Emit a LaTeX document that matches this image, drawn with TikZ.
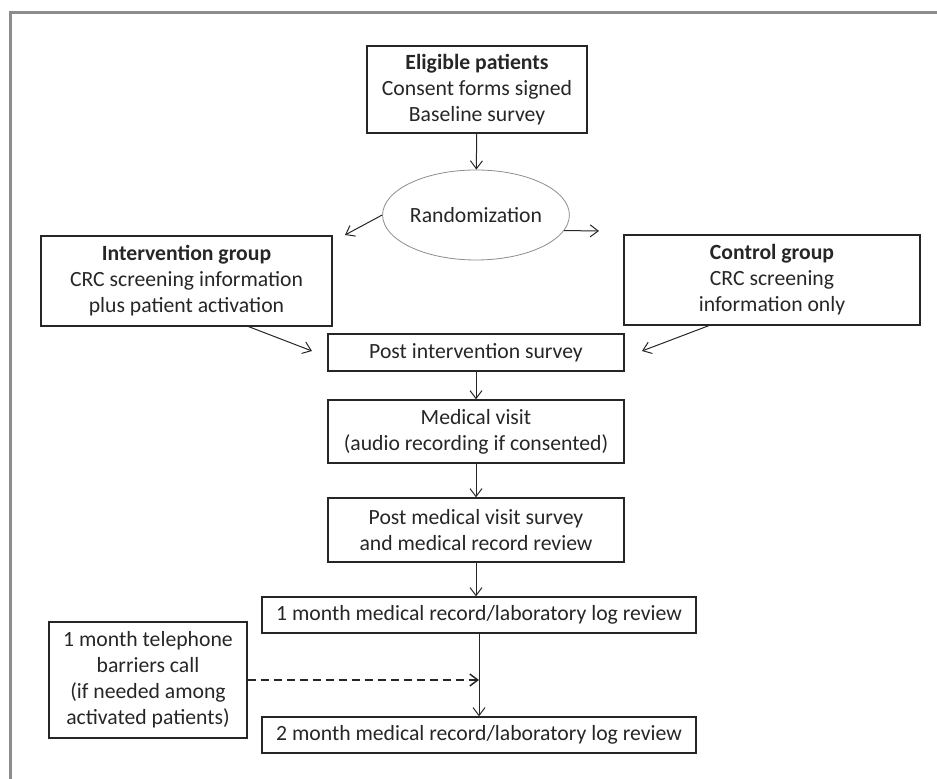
\documentclass[tikz,border=0pt]{standalone}
\usepackage{fontspec}
\setmainfont{Carlito}
\usepackage{xcolor}
\usetikzlibrary{arrows.meta, positioning, shapes.geometric}

\definecolor{framegray}{HTML}{8C8C8C}
\definecolor{inkgray}{HTML}{262626}

\begin{document}
\begin{tikzpicture}[x=0.5pt, y=-0.5pt,
    box/.style={draw=inkgray, line width=0.6pt, align=center, inner sep=0pt,
        text=inkgray, font=\fontsize{10.85}{13}\selectfont},
    flow/.style={-{Straight Barb[length=4pt, width=6pt]}, line width=0.5pt, draw=inkgray}]
    \useasboundingbox (0,0) rectangle (937,779);

    % Outer frame
    \draw[framegray, line width=1.5pt] (10,779) -- (10,13) -- (937,13);

    % Enrolment
    \node[box, minimum width=110pt, minimum height=43.5pt] (elig) at (477,89.5)
        {\textbf{Eligible patients}\\Consent forms signed\\Baseline survey};
    \node[ellipse, draw=framegray, line width=0.4pt, minimum width=90.5pt, minimum height=45pt,
        inner sep=0pt, text=inkgray, font=\fontsize{10.85}{13}\selectfont] (rand) at (476,215) {Randomization};

    % Study arms
    \node[box, minimum width=145.5pt, minimum height=45pt] (interv) at (186.5,281)
        {\textbf{Intervention group}\\CRC screening information\\plus patient activation};
    \node[box, minimum width=148pt, minimum height=45pt] (ctrl) at (772,280)
        {\textbf{Control group}\\CRC screening\\information only};

    % Follow-up steps
    \node[box, minimum width=148pt, minimum height=18.5pt] (postint) at (476,352.5) {Post intervention survey};
    \node[box, minimum width=148pt, minimum height=31.5pt] (medvisit) at (476,431.5)
        {Medical visit\\(audio recording if consented)};
    \node[box, minimum width=148pt, minimum height=32pt] (postmed) at (476,530)
        {Post medical visit survey\\and medical record review};
    \node[box, minimum width=217pt, minimum height=18pt] (month1) at (479,615)
        {1 month medical record/laboratory log review};
    \node[box, minimum width=217pt, minimum height=18pt] (month2) at (479,735)
        {2 month medical record/laboratory log review};
    \node[box, minimum width=99pt, minimum height=58pt] (phone) at (148,680)
        {1 month telephone\\barriers call\\(if needed among\\activated patients)};

    % Free ends of the slanted arrows
    \coordinate (randL) at (345,235);
    \coordinate (randR) at (599,231);
    \coordinate (intervEnd) at (312,351);
    \coordinate (ctrlEnd) at (642,351);

    % Connectors
    \draw[flow] (elig) -- (rand);
    \draw[flow] (rand.west) -- (randL);
    \draw[flow] (rand.-10) -- (randR);
    \draw[flow] (interv.south) ++(62,0) -- (intervEnd);
    \draw[flow] (ctrl.south) ++(-63,0) -- (ctrlEnd);
    \draw[flow] (postint) -- (medvisit);
    \draw[flow] (medvisit) -- (postmed);
    \draw[flow] (postmed) -- (postmed.south |- month1.north);
    \draw[flow] (month1) -- (month2);
    \draw[flow, line width=0.75pt, dash pattern=on 4pt off 2.5pt] (phone.east) -- (phone.east -| month1.south);
\end{tikzpicture}
\end{document}
